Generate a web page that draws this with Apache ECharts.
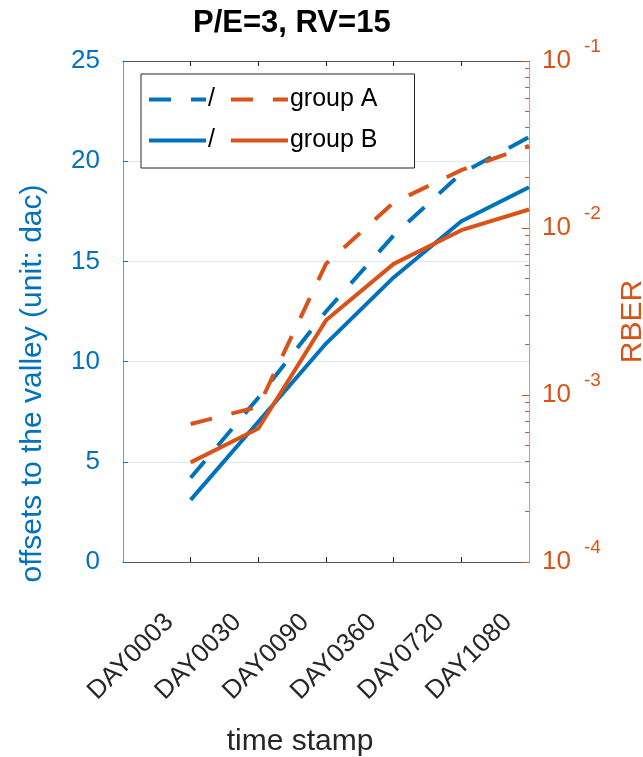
<!DOCTYPE html>
<html>
<head>
<meta charset="utf-8">
<script src="https://cdn.jsdelivr.net/npm/echarts@6/dist/echarts.min.js"></script>
<style>
  html, body { margin: 0; padding: 0; background: #fff; }
  #chart { width: 643px; height: 757px; }
</style>
</head>
<body>
<div id="chart"></div>
<script>
// time stamps on the x axis (plotted at positions 1..6)
const days = ['DAY0003', 'DAY0030', 'DAY0090', 'DAY0360', 'DAY0720', 'DAY1080'];

// offsets to the valley (left axis, dac)
const offsetA = [4.2, 8.2, 12.5, 16.3, 19.4, 21.2];
const offsetB = [3.1, 7.0, 10.9, 14.2, 17.0, 18.7];

// RBER (right axis, log)
const rberA = [6.7e-4, 8.5e-4, 6.1e-3, 1.42e-2, 2.22e-2, 3.1e-2];
const rberB = [3.95e-4, 6.3e-4, 2.8e-3, 6.1e-3, 9.7e-3, 1.29e-2];

// legend texts per series
const legendText = { A_off: '/', A_rber: 'group A', B_off: '/', B_rber: 'group B' };

const BLUE = '#0072BD';
const ORANGE = '#D95319';
const TEXT = '#262626';
const FONT = '"Liberation Sans", Arial, sans-serif';

// log minor ticks: 2..9 in each decade
const minorTicks = [];
for (let d = -4; d < -1; d++) {
    for (let k = 2; k <= 9; k++) minorTicks.push(k * Math.pow(10, d));
}

const pairs = (vals) => vals.map((v, i) => [i + 1, v]);
const dashed = [22, 20];

const option = {
    animation: false,
    textStyle: { fontFamily: FONT },
    title: {
        text: 'P/E=3, RV=15',
        left: 193,
        top: 8,
        padding: 0,
        textStyle: { fontSize: 31, fontWeight: 'bold', color: '#000', fontFamily: FONT },
    },
    legend: {
        data: ['A_off', 'A_rber', 'B_off', 'B_rber'],
        left: 141,
        top: 74,
        width: 250,
        orient: 'horizontal',
        padding: [12, 37, 14, 6],
        itemWidth: 57,
        itemHeight: 14,
        itemGap: 14,
        borderColor: TEXT,
        borderWidth: 1,
        backgroundColor: '#fff',
        formatter: (name) => legendText[name],
        itemStyle: { color: 'rgba(0,0,0,0)', borderWidth: 0 },
        lineStyle: { width: 4 },
        textStyle: { fontSize: 25, lineHeight: 27, color: '#000', fontFamily: FONT, padding: [0, 0, 0, -3] },
    },
    grid: {
        left: 123,
        right: 114,
        top: 61,
        bottom: 195,
        outerBoundsMode: 'none',
    },
    xAxis: [
        {
            type: 'value',
            position: 'bottom',
            min: 0,
            max: 6,
            interval: 1,
            name: 'time stamp',
            nameLocation: 'middle',
            nameGap: 165,
            nameTextStyle: { fontSize: 30, color: TEXT, padding: [0, 52, 0, 0], fontFamily: FONT },
            axisLine: { show: true, onZero: false, lineStyle: { color: '#555', width: 1 } },
            axisTick: { show: true, inside: true, length: 5, lineStyle: { color: TEXT }, customValues: [1, 2, 3, 4, 5] },
            axisLabel: {
                rotate: 45,
                margin: 35,
                padding: [0, 30, 0, 0],
                fontSize: 26,
                color: TEXT,
                fontFamily: FONT,
                formatter: (v) => days[v - 1] || '',
            },
            splitLine: { show: false },
        },
        {
            type: 'value',
            position: 'top',
            min: 0,
            max: 6,
            interval: 1,
            axisLine: { show: true, onZero: false, lineStyle: { color: '#555', width: 1 } },
            axisTick: { show: true, inside: true, length: 5, lineStyle: { color: TEXT }, customValues: [1, 2, 3, 4, 5] },
            axisLabel: { show: false },
            splitLine: { show: false },
        },
    ],
    yAxis: [
        {
            type: 'value',
            position: 'left',
            min: 0,
            max: 25,
            interval: 5,
            name: 'offsets to the valley (unit: dac)',
            nameLocation: 'middle',
            nameGap: 75,
            nameTextStyle: { fontSize: 30, color: BLUE, padding: [0, 144, 0, 0], fontFamily: FONT },
            axisLine: { show: true, onZero: false, lineStyle: { color: '#5a9fd6', width: 1 } },
            axisTick: { show: true, inside: true, length: 5, lineStyle: { color: BLUE } },
            axisLabel: { fontSize: 26, color: BLUE, margin: 23, fontFamily: FONT },
            splitLine: { show: true, lineStyle: { color: '#d9eaf5', width: 1 } },
        },
        {
            type: 'log',
            logBase: 10,
            position: 'right',
            min: 1e-4,
            max: 1e-1,
            name: 'RBER',
            nameLocation: 'middle',
            nameGap: 89,
            nameTextStyle: { fontSize: 30, color: ORANGE, padding: [0, 20, 0, 0], fontFamily: FONT },
            axisLine: { show: true, onZero: false, lineStyle: { color: '#e8916b', width: 1 } },
            axisTick: { show: true, inside: true, length: 7, lineStyle: { color: ORANGE } },
            axisLabel: {
                margin: 13,
                color: ORANGE,
                fontSize: 26,
                fontFamily: FONT,
                formatter: (v) => '{b|10}{s|' + Math.round(Math.log10(v)) + '}',
                rich: {
                    b: { fontSize: 26, color: ORANGE, fontFamily: FONT, verticalAlign: 'middle' },
                    s: { fontSize: 19, color: ORANGE, fontFamily: FONT, verticalAlign: 'middle', padding: [0, 0, 28, 13] },
                },
            },
            splitLine: { show: false },
        },
        {
            type: 'log',
            logBase: 10,
            position: 'right',
            min: 1e-4,
            max: 1e-1,
            axisLine: { show: false, onZero: false },
            axisTick: { show: true, inside: true, length: 4, lineStyle: { color: ORANGE }, customValues: minorTicks },
            axisLabel: { show: false },
            splitLine: { show: false },
        },
    ],
    series: [
        {
            name: 'A_off',
            type: 'line',
            yAxisIndex: 0,
            data: pairs(offsetA),
            symbol: 'none',
            lineStyle: { color: BLUE, width: 4, type: dashed, cap: 'butt' },
            itemStyle: { color: BLUE },
        },
        {
            name: 'B_off',
            type: 'line',
            yAxisIndex: 0,
            data: pairs(offsetB),
            symbol: 'none',
            lineStyle: { color: BLUE, width: 4, type: 'solid' },
            itemStyle: { color: BLUE },
        },
        {
            name: 'A_rber',
            type: 'line',
            yAxisIndex: 1,
            data: pairs(rberA),
            symbol: 'none',
            lineStyle: { color: ORANGE, width: 4, type: dashed, cap: 'butt' },
            itemStyle: { color: ORANGE },
        },
        {
            name: 'B_rber',
            type: 'line',
            yAxisIndex: 1,
            data: pairs(rberB),
            symbol: 'none',
            lineStyle: { color: ORANGE, width: 4, type: 'solid' },
            itemStyle: { color: ORANGE },
        },
    ],
};

const chart = echarts.init(document.getElementById('chart'), null, { renderer: 'canvas' });
chart.setOption(option);
</script>
</body>
</html>
